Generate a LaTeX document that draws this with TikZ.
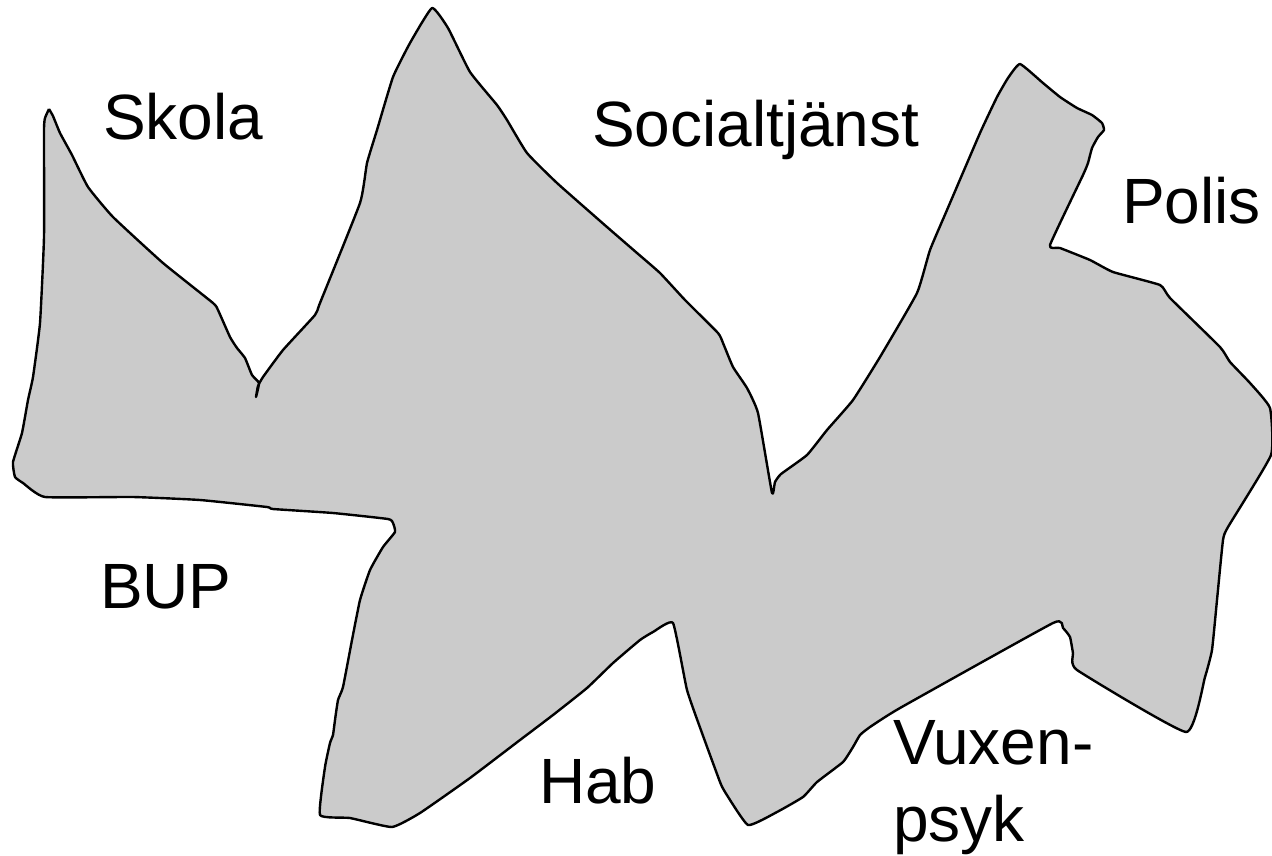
\documentclass[tikz,border=0pt]{standalone}
\usepackage{fontspec}
\setmainfont{Liberation Sans}
\definecolor{blobgray}{HTML}{CBCBCB}
\tikzset{
  blob/.style={draw=black, fill=blobgray, line width=2.4pt, line join=round},
  lbl/.style={inner sep=0pt, outer sep=0pt, anchor=base west, align=left,
    font=\fontsize{64}{77}\selectfont}
}
\begin{document}
\begin{tikzpicture}[x=1pt, y=-1pt]
\useasboundingbox (0,0) rectangle (1272,855);
\draw[blob] plot[smooth, tension=0.25] coordinates {
 (49,109) (53,116) (60,133) (72,155) (88,187) (113,217) (163,263) (213,303)
 (218,310) (230,337) (237,348) (245,358) (252,375) (259,383) (256,397)
 (258,386) (263,377) (283,350) (315,315) (320,303) (360,203) (367,163)
 (377,130) (393,77) (410,43) (432,8) (448,28) (470,72) (497,105) (507,120)
 (527,153) (557,183) (607,227) (637,253) (660,273) (685,300) (718,333)
 (723,343) (733,367) (747,388) (758,413) (772,493) (775,482) (781,474)
 (807,455) (827,430) (853,400) (880,357) (917,293) (930,250) (947,210)
 (980,133) (997,97) (1008,78) (1020,64) (1043,83) (1060,97) (1077,108)
 (1092,115) (1102,123) (1104,130) (1098,137) (1092,148) (1088,163)
 (1083,175) (1050,245) (1060,248) (1090,260) (1113,272) (1160,285)
 (1170,298) (1220,347) (1230,362) (1250,383) (1270,408) (1271,455)
 (1228,527) (1223,540) (1217,600) (1212,650) (1205,677) (1186,732)
 (1077,670) (1073,653) (1070,637) (1063,628) (1053,623) (900,708)
 (870,727) (860,735) (853,747) (843,762) (817,782) (803,797) (777,812)
 (748,825) (725,792) (720,782) (702,733) (687,690) (673,623) (653,632)
 (640,640) (613,663) (587,688) (553,715) (520,740) (470,778) (420,813)
 (392,827) (350,818) (320,815) (325,767) (330,743) (333,735) (335,720)
 (338,700) (343,687) (352,640) (360,600) (370,570) (383,547) (395,532)
 (393,523) (388,519) (333,513) (273,509) (267,507) (200,500) (133,497)
 (45,497) (23,483) (15,477) (13,462) (22,433) (28,400) (33,377) (40,323)
 (44,237) (44,130) (45,118) (49,109)
};
\node[lbl] (skola) at (103,139) {Skola};
\node[lbl] (soc) at (592,146) {Socialtjänst};
\node[lbl] (polis) at (1122,223) {Polis};
\node[lbl] (bup) at (100,608) {BUP};
\node[lbl] (hab) at (539,803) {Hab};
\node[lbl] (vux) at (893,841) {Vuxen-\\psyk};
\end{tikzpicture}
\end{document}
